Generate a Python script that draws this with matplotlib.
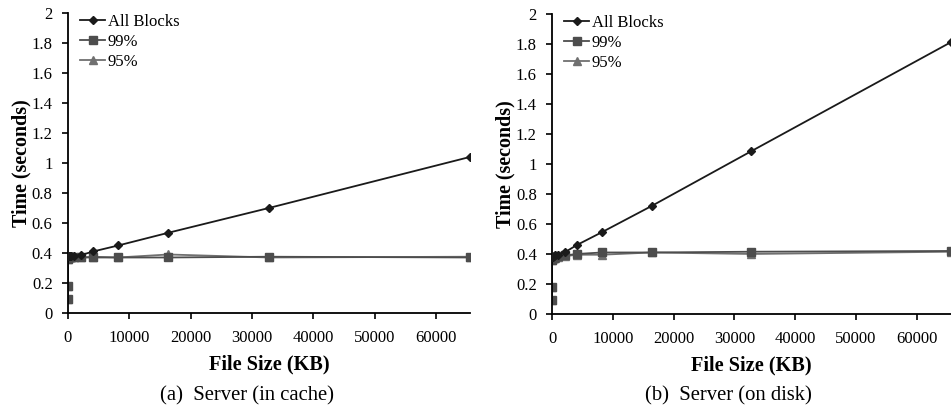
import numpy as np
import matplotlib as mpl
import matplotlib.pyplot as plt

mpl.rcParams['font.family'] = ['Liberation Serif', 'DejaVu Serif']
mpl.rcParams['font.size'] = 12

# file sizes in KB (powers of two)
sizes = [1, 2, 4, 8, 16, 32, 64, 128, 256, 512, 1024, 2048, 4096, 8192, 16384, 32768, 65536]

cache_all = [0.38, 0.38, 0.38, 0.38, 0.38, 0.38, 0.38, 0.38, 0.38, 0.38, 0.38, 0.385, 0.41, 0.45, 0.535, 0.70, 1.04]
cache_99 = [0.09, 0.18, 0.36, 0.37, 0.37, 0.37, 0.37, 0.37, 0.37, 0.37, 0.37, 0.37, 0.37, 0.37, 0.37, 0.375, 0.37]
cache_95 = [0.09, 0.18, 0.36, 0.37, 0.37, 0.37, 0.37, 0.37, 0.37, 0.37, 0.37, 0.37, 0.375, 0.37, 0.39, 0.37, 0.375]

disk_all = [0.38, 0.38, 0.38, 0.38, 0.38, 0.38, 0.38, 0.38, 0.385, 0.39, 0.395, 0.41, 0.46, 0.545, 0.72, 1.085, 1.81]
disk_99 = [0.09, 0.18, 0.36, 0.37, 0.37, 0.37, 0.37, 0.37, 0.375, 0.38, 0.385, 0.39, 0.40, 0.41, 0.41, 0.415, 0.42]
disk_95 = [0.09, 0.18, 0.36, 0.37, 0.37, 0.37, 0.37, 0.37, 0.37, 0.375, 0.38, 0.385, 0.395, 0.395, 0.41, 0.40, 0.415]

labels = ['All Blocks', '99%', '95%']
captions = ['(a)  Server (in cache)', '(b)  Server (on disk)']

fig = plt.figure(figsize=(9.51, 4.16), dpi=100)
ax1 = fig.add_axes([0.0715, 0.2476, 0.4227, 0.7214])
ax2 = fig.add_axes([0.5805, 0.2452, 0.4190, 0.7214])

for ax, series, cap, cx in [(ax1, (cache_all, cache_99, cache_95), captions[0], 0.260),
                            (ax2, (disk_all, disk_99, disk_95), captions[1], 0.766)]:
    ax.plot(sizes, series[0], color='#1a1a1a', marker='D', markersize=4.5, lw=1.3, label=labels[0], zorder=3)
    ax.plot(sizes, series[1], color='#4d4d4d', marker='s', markersize=6, lw=1.3, label=labels[1], zorder=2)
    ax.plot(sizes, series[2], color='#707070', marker='^', markersize=6, lw=1.3, label=labels[2], zorder=1)
    ax.set_xlim(0, 65536)
    ax.set_ylim(0, 2)
    ax.set_xticks(np.arange(0, 60001, 10000))
    ax.set_yticks(np.arange(0, 2.01, 0.2))
    ax.set_yticklabels(['0', '0.2', '0.4', '0.6', '0.8', '1', '1.2', '1.4', '1.6', '1.8', '2'])
    for s in ['top', 'right']:
        ax.spines[s].set_visible(False)
    ax.spines['left'].set_linewidth(1.3)
    ax.spines['bottom'].set_linewidth(1.3)
    ax.tick_params(direction='out', length=4, width=1.2, labelsize=12)
    ax.tick_params(axis='y', pad=7)
    ax.tick_params(axis='x', pad=8)
    ax.set_xlabel('File Size (KB)', fontsize=14.6, fontweight='bold', labelpad=6)
    ax.set_ylabel('Time (seconds)', fontsize=14.4, fontweight='bold', labelpad=0)
    ax.legend(loc='upper left', frameon=False, handlelength=1.5, handletextpad=0.15,
              labelspacing=0.25, borderaxespad=0.2, fontsize=12, bbox_to_anchor=(0.005, 1.03))
    fig.text(cx, 0.048, cap, ha='center', va='center', fontsize=14.9)

fig.savefig('out.png', dpi=100)
